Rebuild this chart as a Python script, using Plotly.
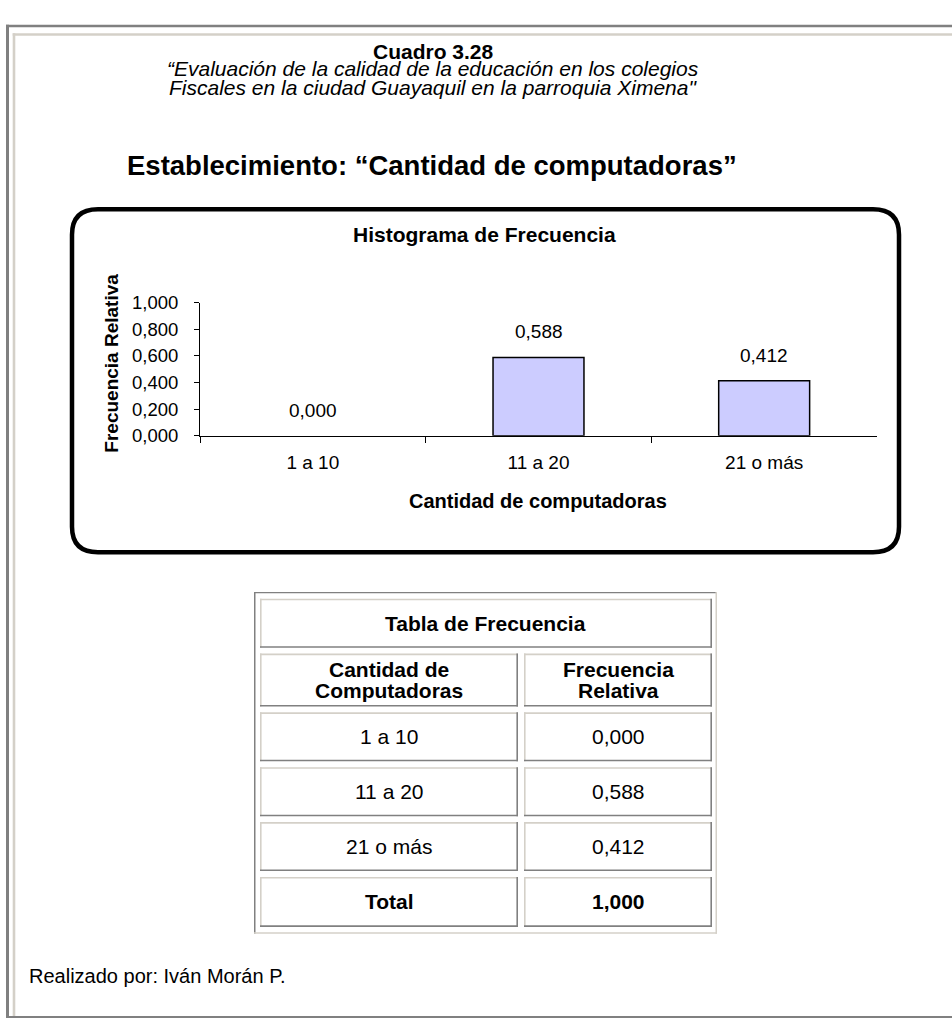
import plotly.graph_objects as go

W, H = 952, 1028

# ---------------- data ----------------
categorias = ["1 a 10", "11 a 20", "21 o más"]
frecuencia_relativa = [0.000, 0.588, 0.412]
y_ticks = [0.0, 0.2, 0.4, 0.6, 0.8, 1.0]

cuadro = "Cuadro 3.28"
subtitulo = ["“Evaluación de la calidad de la educación en los colegios",
             "Fiscales en la ciudad Guayaquil en la parroquia Ximena\""]
titulo = "Establecimiento: “Cantidad de computadoras”"
titulo_grafico = "Histograma de Frecuencia"
titulo_x = "Cantidad de computadoras"
titulo_y = "Frecuencia Relativa"
tabla_titulo = "Tabla de Frecuencia"
tabla_encabezados = [["Cantidad de", "Computadoras"], ["Frecuencia", "Relativa"]]
fila_total = "Total"
autor = "Realizado por: Iván Morán P."


def fmt(v):
    return f"{v:.3f}".replace(".", ",")


FONT = "Liberation Sans, Arial, Helvetica, sans-serif"
GRAY = "#808080"
BEIGE = "#d4d0c8"


def X(px):
    return px / W


def Y(py):
    return 1 - py / H


fig = go.Figure()
fig.add_trace(go.Bar(
    x=categorias, y=frecuencia_relativa, width=0.403,
    marker=dict(color="#ccccff",
                line=dict(color="black", width=[0 if v == 0 else 1.5 for v in frecuencia_relativa])),
    hoverinfo="skip"))

shapes = []
annotations = []


def rect(x0, y0, x1, y1, color):
    shapes.append(dict(type="rect", xref="paper", yref="paper",
                       x0=X(x0), x1=X(x1), y0=Y(y1), y1=Y(y0),
                       fillcolor=color, line=dict(width=0), layer="above"))


def text(px, py, s, size, bold=False, italic=False, xanchor="center", angle=0):
    if bold:
        s = f"<b>{s}</b>"
    if italic:
        s = f"<i>{s}</i>"
    annotations.append(dict(xref="paper", yref="paper", x=X(px), y=Y(py), text=s,
                            showarrow=False, xanchor=xanchor, yanchor="middle",
                            textangle=angle, font=dict(size=size, family=FONT, color="black")))


# page frame
rect(6, 14, 9, 1028, GRAY)
rect(6, 14, 952, 16.7, GRAY)
rect(12.7, 22.7, 15.3, 1026, BEIGE)
rect(12.7, 22.7, 952, 25.3, BEIGE)
rect(6, 1026, 952, 1028, GRAY)

# headings
text(433, 41, cuadro, 21, bold=True)
text(433, 59, subtitulo[0], 21, italic=True)
text(433, 78, subtitulo[1], 21, italic=True)
text(432, 158, titulo, 27.5, bold=True)

# rounded chart box
x0, x1, y0, y1, r = 72, 899, 202.5, 552.5, 26
path = (f"M {X(x0 + r)},{Y(y0)} L {X(x1 - r)},{Y(y0)} Q {X(x1)},{Y(y0)} {X(x1)},{Y(y0 + r)} "
        f"L {X(x1)},{Y(y1 - r)} Q {X(x1)},{Y(y1)} {X(x1 - r)},{Y(y1)} "
        f"L {X(x0 + r)},{Y(y1)} Q {X(x0)},{Y(y1)} {X(x0)},{Y(y1 - r)} "
        f"L {X(x0)},{Y(y0 + r)} Q {X(x0)},{Y(y0)} {X(x0 + r)},{Y(y0)} Z")
shapes.append(dict(type="path", xref="paper", yref="paper", path=path,
                   line=dict(color="black", width=4.5), layer="above"))

text(485, 228, titulo_grafico, 21, bold=True)
text(538, 500, titulo_x, 20, bold=True)
text(112, 360, titulo_y, 19, bold=True, angle=-90)

# data labels
for c, v in zip(categorias, frecuencia_relativa):
    annotations.append(dict(xref="x", yref="y", x=c, y=v, text=fmt(v), showarrow=False,
                            yanchor="bottom", yshift=13,
                            font=dict(size=19, family=FONT, color="black")))

# table
rect(254, 593, 717, 594.5, GRAY)
rect(254, 593, 255.5, 942, GRAY)
rect(254, 940.5, 717, 942, BEIGE)
rect(715.5, 593, 717, 942, BEIGE)

col_x = [(260, 518), (524, 712)]
row_h = [50, 54, 50, 50, 50, 51]
gap = 6
tops = []
t = 600
for h in row_h:
    tops.append(t)
    t += h + gap


def cell(cx0, cy0, cx1, cy1):
    b = 1.6
    rect(cx0, cy0, cx1, cy0 + b, BEIGE)
    rect(cx0, cy0, cx0 + b, cy1, BEIGE)
    rect(cx0, cy1 - b, cx1, cy1, GRAY)
    rect(cx1 - b, cy0, cx1, cy1, GRAY)


# title row
cell(col_x[0][0], tops[0], col_x[1][1], tops[0] + row_h[0])
text((col_x[0][0] + col_x[1][1]) / 2, tops[0] + row_h[0] / 2, tabla_titulo, 21, bold=True)

# header row
for j, lines in enumerate(tabla_encabezados):
    cx0, cx1 = col_x[j]
    cy0, cy1 = tops[1], tops[1] + row_h[1]
    cell(cx0, cy0, cx1, cy1)
    cm = (cy0 + cy1) / 2
    text((cx0 + cx1) / 2, cm - 10.5, lines[0], 21, bold=True)
    text((cx0 + cx1) / 2, cm + 10.5, lines[1], 21, bold=True)

# data rows + total
rows = [(c, fmt(v), False) for c, v in zip(categorias, frecuencia_relativa)]
rows.append((fila_total, fmt(sum(frecuencia_relativa)), True))
for i, (a, b, bold) in enumerate(rows):
    cy0 = tops[2 + i]
    cy1 = cy0 + row_h[2 + i]
    for j, s in enumerate((a, b)):
        cx0, cx1 = col_x[j]
        cell(cx0, cy0, cx1, cy1)
        text((cx0 + cx1) / 2, (cy0 + cy1) / 2, s, 21, bold=bold)

text(27, 985, autor, 20, xanchor="left")

fig.update_layout(
    width=W, height=H, autosize=False,
    margin=dict(l=0, r=0, t=0, b=0, pad=0),
    paper_bgcolor="white", plot_bgcolor="white",
    showlegend=False, separators=",.",
    font=dict(family=FONT, color="black"),
    xaxis=dict(domain=[X(200), X(877)], range=[-0.5, 2.5], type="category",
               showline=True, linecolor="black", linewidth=1,
               ticks="outside", ticklen=6, tickcolor="black", tickwidth=1,
               tickson="boundaries", tickfont=dict(size=19, family=FONT),
               showgrid=False, zeroline=False, ticklabelstandoff=10, fixedrange=True),
    yaxis=dict(domain=[Y(433.5), Y(297.7)], range=[0, 1], tickvals=y_ticks,
               tickformat=".3f", showline=True, linecolor="black", linewidth=1,
               ticks="outside", ticklen=5, tickcolor="black", tickwidth=1,
               tickfont=dict(size=18.5, family=FONT),
               showgrid=False, zeroline=False, ticklabelstandoff=12, fixedrange=True),
    shapes=shapes, annotations=annotations,
)

fig.write_html(
    "out.html",
    config={"displayModeBar": False},
    post_script="document.body.style.margin='0';document.body.style.overflow='hidden';",
)
